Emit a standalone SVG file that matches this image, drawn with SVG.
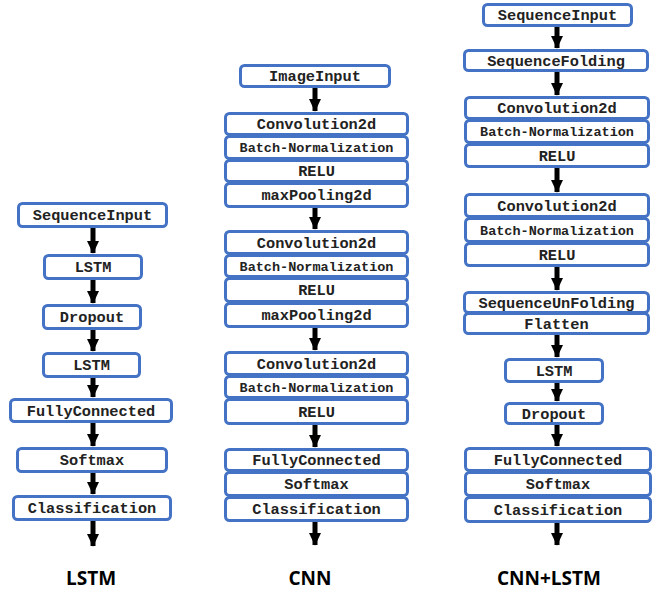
<svg xmlns="http://www.w3.org/2000/svg" width="662" height="594" viewBox="0 0 662 594">
<style>
.b{fill:#fff;stroke:#4472C4;stroke-width:3}
.t{font-family:"Liberation Mono","Courier New",monospace;font-weight:bold;font-size:15.3px;fill:#222;text-anchor:middle}
.s{font-size:13.5px}
.lab{font-family:"Open Sans","Noto Sans",sans-serif;font-weight:bold;font-size:19px;fill:#000;text-anchor:middle}
.a{stroke:#000;stroke-width:5;fill:none;marker-end:url(#ah)}
</style>
<defs>
<marker id="ah" markerUnits="userSpaceOnUse" markerWidth="15" markerHeight="12" refX="14" refY="7" orient="auto" viewBox="0 0 15 14"><path d="M0,0 L15,7 L0,14 Z" fill="#000"/></marker>
</defs>
<g id="connectors">
<line class="a" x1="93" y1="228" x2="93" y2="253"/>
<line class="a" x1="93" y1="280" x2="93" y2="303"/>
<line class="a" x1="93" y1="330" x2="93" y2="351"/>
<line class="a" x1="93" y1="378" x2="93" y2="397"/>
<line class="a" x1="93" y1="423" x2="93" y2="446"/>
<line class="a" x1="93" y1="473" x2="93" y2="494"/>
<line class="a" x1="93" y1="521" x2="93" y2="546"/>
<line class="a" x1="315" y1="88" x2="315" y2="111"/>
<line class="a" x1="315" y1="208" x2="315" y2="229"/>
<line class="a" x1="315" y1="328" x2="315" y2="350"/>
<line class="a" x1="315" y1="425" x2="315" y2="447"/>
<line class="a" x1="315" y1="522" x2="315" y2="545"/>
<line class="a" x1="557" y1="27" x2="557" y2="48"/>
<line class="a" x1="557" y1="72" x2="557" y2="95"/>
<line class="a" x1="557" y1="168" x2="557" y2="192"/>
<line class="a" x1="557" y1="267" x2="557" y2="290"/>
<line class="a" x1="557" y1="335" x2="557" y2="357"/>
<line class="a" x1="557" y1="383" x2="557" y2="401"/>
<line class="a" x1="557" y1="425" x2="557" y2="446"/>
<line class="a" x1="557" y1="523" x2="557" y2="545"/>
</g>
<g id="lstm-col">
<g id="l1"><rect class="b" x="18.5" y="203.5" width="148" height="23" rx="4"/><text class="t" x="92.5" y="220">SequenceInput</text></g>
<g id="l2"><rect class="b" x="44.5" y="255.5" width="97" height="23" rx="4"/><text class="t" x="93" y="272">LSTM</text></g>
<g id="l3"><rect class="b" x="43.5" y="305.5" width="97" height="23" rx="4"/><text class="t" x="92" y="322">Dropout</text></g>
<g id="l4"><rect class="b" x="43.5" y="353.5" width="96" height="23" rx="4"/><text class="t" x="91.5" y="370">LSTM</text></g>
<g id="l5"><rect class="b" x="10.5" y="399.5" width="161" height="22" rx="4"/><text class="t" x="91" y="415.5">FullyConnected</text></g>
<g id="l6"><rect class="b" x="17.5" y="448.5" width="149" height="23" rx="4"/><text class="t" x="92" y="465">Softmax</text></g>
<g id="l7"><rect class="b" x="13.5" y="496.5" width="157" height="23" rx="4"/><text class="t" x="92" y="513">Classification</text></g>
<text id="lab-lstm" class="lab" x="91" y="585">LSTM</text>
</g>
<g id="cnn-col">
<g id="c0"><rect class="b" x="240.5" y="65.5" width="149" height="21" rx="4"/><text class="t" x="315" y="81">ImageInput</text></g>
<g id="c1"><rect class="b" x="225.5" y="113.5" width="182" height="21" rx="4"/><text class="t" x="316.5" y="129">Convolution2d</text></g>
<g id="c2"><rect class="b" x="225.5" y="136.5" width="182" height="22" rx="4"/><text class="t s" x="316.5" y="152">Batch-Normalization</text></g>
<g id="c3"><rect class="b" x="225.5" y="160.5" width="182" height="21" rx="4"/><text class="t" x="316.5" y="176">RELU</text></g>
<g id="c4"><rect class="b" x="225.5" y="183.5" width="182" height="23" rx="4"/><text class="t" x="316.5" y="200">maxPooling2d</text></g>
<g id="c5"><rect class="b" x="225.5" y="231.5" width="182" height="22" rx="4"/><text class="t" x="316.5" y="247.5">Convolution2d</text></g>
<g id="c6"><rect class="b" x="225.5" y="255.5" width="182" height="21" rx="4"/><text class="t s" x="316.5" y="271">Batch-Normalization</text></g>
<g id="c7"><rect class="b" x="225.5" y="278.5" width="182" height="23" rx="4"/><text class="t" x="316.5" y="295">RELU</text></g>
<g id="c8"><rect class="b" x="225.5" y="303.5" width="182" height="23" rx="4"/><text class="t" x="316.5" y="320">maxPooling2d</text></g>
<g id="c9"><rect class="b" x="225.5" y="352.5" width="182" height="22" rx="4"/><text class="t" x="316.5" y="368.5">Convolution2d</text></g>
<g id="c10"><rect class="b" x="225.5" y="376.5" width="182" height="21" rx="4"/><text class="t s" x="316.5" y="392">Batch-Normalization</text></g>
<g id="c11"><rect class="b" x="225.5" y="399.5" width="182" height="24" rx="4"/><text class="t" x="316.5" y="416.5">RELU</text></g>
<g id="c12"><rect class="b" x="225.5" y="449.5" width="182" height="21" rx="4"/><text class="t" x="316.5" y="465">FullyConnected</text></g>
<g id="c13"><rect class="b" x="225.5" y="472.5" width="182" height="23" rx="4"/><text class="t" x="316.5" y="489">Softmax</text></g>
<g id="c14"><rect class="b" x="225.5" y="497.5" width="182" height="23" rx="4"/><text class="t" x="316.5" y="514">Classification</text></g>
<text id="lab-cnn" class="lab" x="310" y="585">CNN</text>
</g>
<g id="cnnlstm-col">
<g id="h0"><rect class="b" x="483.5" y="4.5" width="148" height="21" rx="4"/><text class="t" x="557.5" y="20">SequenceInput</text></g>
<g id="h1"><rect class="b" x="464.5" y="50.5" width="183" height="20" rx="4"/><text class="t" x="556" y="65.5">SequenceFolding</text></g>
<g id="h2"><rect class="b" x="465.5" y="97.5" width="183" height="21" rx="4"/><text class="t" x="557" y="113">Convolution2d</text></g>
<g id="h3"><rect class="b" x="465.5" y="120.5" width="183" height="22" rx="4"/><text class="t s" x="557" y="136">Batch-Normalization</text></g>
<g id="h4"><rect class="b" x="465.5" y="144.5" width="183" height="22" rx="4"/><text class="t" x="557" y="160.5">RELU</text></g>
<g id="h5"><rect class="b" x="465.5" y="194.5" width="183" height="22" rx="4"/><text class="t" x="557" y="210.5">Convolution2d</text></g>
<g id="h6"><rect class="b" x="465.5" y="218.5" width="183" height="23" rx="4"/><text class="t s" x="557" y="235">Batch-Normalization</text></g>
<g id="h7"><rect class="b" x="465.5" y="243.5" width="183" height="22" rx="4"/><text class="t" x="557" y="259.5">RELU</text></g>
<g id="h8"><rect class="b" x="464.5" y="292.5" width="184" height="20" rx="4"/><text class="t" x="556.5" y="307.5">SequenceUnFolding</text></g>
<g id="h9"><rect class="b" x="464.5" y="313.5" width="184" height="20" rx="4"/><text class="t" x="556.5" y="328.5">Flatten</text></g>
<g id="h10"><rect class="b" x="505.5" y="359.5" width="97" height="22" rx="4"/><text class="t" x="554" y="375.5">LSTM</text></g>
<g id="h11"><rect class="b" x="505.5" y="403.5" width="97" height="20" rx="4"/><text class="t" x="554" y="418.5">Dropout</text></g>
<g id="h12"><rect class="b" x="465.5" y="448.5" width="185" height="22" rx="4"/><text class="t" x="558" y="464.5">FullyConnected</text></g>
<g id="h13"><rect class="b" x="465.5" y="472.5" width="185" height="23" rx="4"/><text class="t" x="558" y="489">Softmax</text></g>
<g id="h14"><rect class="b" x="465.5" y="497.5" width="185" height="24" rx="4"/><text class="t" x="558" y="514.5">Classification</text></g>
<text id="lab-cl" class="lab" x="549" y="585">CNN+LSTM</text>
</g>
</svg>
